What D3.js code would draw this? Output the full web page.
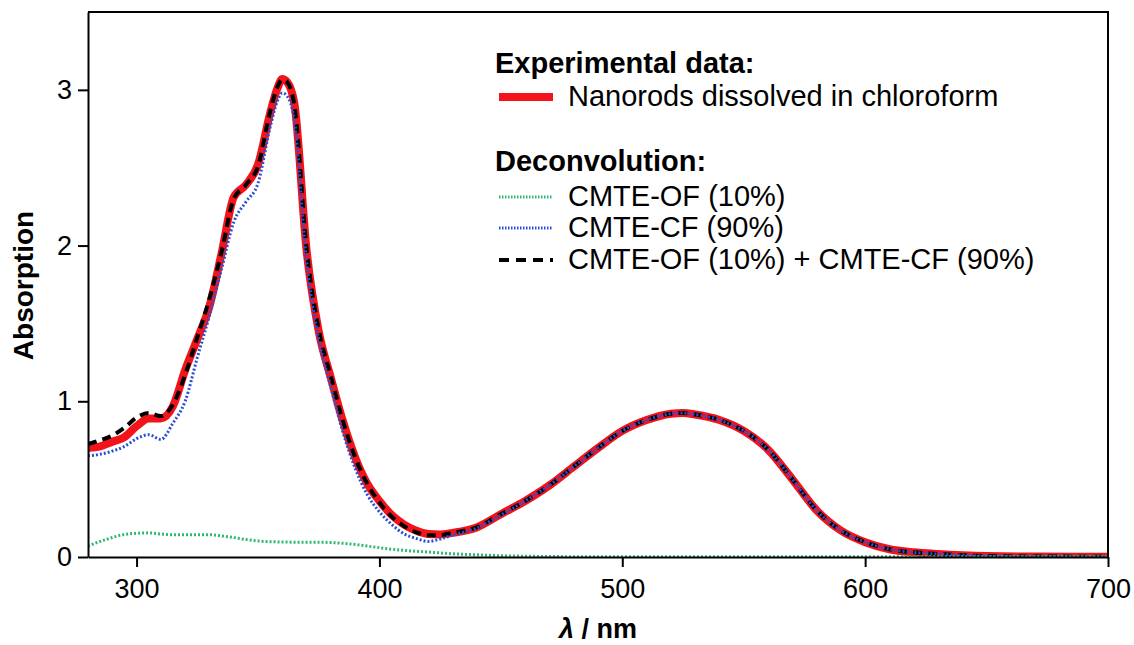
<!DOCTYPE html>
<html>
<head>
<meta charset="utf-8">
<script src="https://cdn.jsdelivr.net/npm/d3@7"></script>
<style>
    html, body { margin: 0; padding: 0; background: #fff; }
    svg { display: block; font-family: "Liberation Sans", Arial, sans-serif; }
    .axis text { font-size: 27px; fill: #000; }
    .axis path, .axis line { stroke: #000; stroke-width: 2; }
    .legend text { font-size: 29px; fill: #000; }
</style>
</head>
<body>
<svg id="chart" width="1134" height="645"></svg>
<script>
// --- Data ---
var wavelengths = [280, 285, 290, 295, 300, 305, 310, 315, 320, 325, 330, 335, 340, 345, 350, 355, 358, 360, 362, 365,
    370, 375, 380, 385, 390, 395, 400, 405, 410, 415, 420, 425, 430, 440, 450, 460, 470, 480, 490, 500,
    510, 520, 525, 530, 540, 550, 560, 570, 580, 590, 600, 610, 620, 630, 640, 650, 670, 700];

// experimental spectrum (red)
var nanorods = [0.70, 0.71, 0.74, 0.77, 0.84, 0.89, 0.89, 0.97, 1.20, 1.40, 1.61, 1.95, 2.31, 2.39, 2.52, 2.85, 3.01, 3.07, 3.05, 2.91,
    1.97, 1.45, 1.15, 0.87, 0.64, 0.47, 0.36, 0.27, 0.21, 0.17, 0.148, 0.145, 0.155, 0.19, 0.275, 0.36, 0.46, 0.58, 0.70, 0.81,
    0.88, 0.92, 0.925, 0.915, 0.88, 0.81, 0.69, 0.50, 0.30, 0.17, 0.095, 0.05, 0.03, 0.019, 0.011, 0.006, 0.003, 0.002];

// CMTE-OF (10%), green
var openForm = [0.07, 0.10, 0.125, 0.145, 0.152, 0.155, 0.148, 0.143, 0.143, 0.143, 0.143, 0.135, 0.125, 0.112, 0.103, 0.098, 0.097, 0.096, 0.096, 0.095,
    0.095, 0.095, 0.093, 0.088, 0.08, 0.07, 0.06, 0.05, 0.043, 0.037, 0.032, 0.026, 0.021, 0.014, 0.008, 0.005, 0.003, 0.002, 0.001, 0.001,
    0.001, 0.001, 0.001, 0.001, 0.001, 0.001, 0.001, 0.001, 0.001, 0.001, 0.001, 0.001, 0.001, 0.001, 0.001, 0.001, 0.001, 0.001];

// CMTE-CF (90%), blue
var closedForm = [0.65, 0.66, 0.68, 0.71, 0.76, 0.785, 0.755, 0.86, 1.00, 1.28, 1.55, 1.85, 2.15, 2.28, 2.40, 2.76, 2.93, 2.98, 2.96, 2.80,
    1.90, 1.40, 1.09, 0.80, 0.57, 0.40, 0.29, 0.21, 0.15, 0.12, 0.10, 0.115, 0.14, 0.185, 0.27, 0.36, 0.46, 0.58, 0.70, 0.81,
    0.88, 0.92, 0.925, 0.915, 0.88, 0.81, 0.69, 0.50, 0.30, 0.17, 0.095, 0.05, 0.03, 0.019, 0.011, 0.006, 0.003, 0.002];

// CMTE-OF (10%) + CMTE-CF (90%), black dashed
var combined = [0.725, 0.75, 0.78, 0.83, 0.895, 0.925, 0.905, 0.98, 1.17, 1.41, 1.66, 1.96, 2.30, 2.39, 2.51, 2.86, 3.02, 3.065, 3.05, 2.90,
    1.98, 1.46, 1.16, 0.87, 0.64, 0.47, 0.35, 0.26, 0.20, 0.16, 0.14, 0.14, 0.155, 0.19, 0.275, 0.36, 0.46, 0.58, 0.70, 0.81,
    0.88, 0.92, 0.925, 0.915, 0.88, 0.81, 0.69, 0.50, 0.30, 0.17, 0.095, 0.05, 0.03, 0.019, 0.011, 0.006, 0.003, 0.002];

var xTicks = [300, 400, 500, 600, 700];
var yTicks = [0, 1, 2, 3];

(function () {
    "use strict";

    var svg = d3.select("#chart");

    var left = 88, right = 1108, top = 12, bottom = 557;

    var x = d3.scaleLinear().domain([280, 700]).range([left, right]);
    var y = d3.scaleLinear().domain([0, 3.5]).range([bottom, top]);

    // --- Clip to plot area ---
    svg.append("defs").append("clipPath").attr("id", "plot-clip")
        .append("rect")
        .attr("x", left).attr("y", top)
        .attr("width", right - left).attr("height", bottom - top);

    function series(values) {
        return wavelengths.map(function (w, i) { return [w, values[i]]; });
    }

    var line = d3.line()
        .x(function (d) { return x(d[0]); })
        .y(function (d) { return y(d[1]); })
        .curve(d3.curveMonotoneX);

    var plot = svg.append("g").attr("clip-path", "url(#plot-clip)");

    // draw order: red, black dashed, blue dotted, green dotted
    var styles = [
        { data: nanorods, color: "#f2141a", width: 8, dash: null },
        { data: combined, color: "#000", width: 4, dash: "9,6" },
        { data: closedForm, color: "#2a4fd6", width: 3, dash: "2,2" },
        { data: openForm, color: "#2fb872", width: 3, dash: "2,2" }
    ];

    styles.forEach(function (s) {
        plot.append("path")
            .datum(series(s.data))
            .attr("fill", "none")
            .attr("stroke", s.color)
            .attr("stroke-width", s.width)
            .attr("stroke-linejoin", "round")
            .attr("stroke-dasharray", s.dash)
            .attr("d", line);
    });

    // --- Axes ---
    svg.append("g")
        .attr("class", "axis x-axis")
        .attr("transform", "translate(0," + bottom + ")")
        .call(d3.axisBottom(x).tickValues(xTicks).tickSize(10).tickPadding(12).tickSizeOuter(0));

    svg.append("g")
        .attr("class", "axis y-axis")
        .attr("transform", "translate(" + left + ",0)")
        .call(d3.axisLeft(y).tickValues(yTicks).tickFormat(d3.format("d"))
            .tickSize(10).tickPadding(6).tickSizeOuter(0));

    // top and right frame
    svg.append("path")
        .attr("fill", "none")
        .attr("stroke", "#000")
        .attr("stroke-width", 2)
        .attr("d", "M" + left + "," + top + "H" + right + "V" + bottom);

    // --- Axis titles ---
    svg.append("text")
        .attr("transform", "translate(33," + ((top + bottom) / 2 + 1) + ") rotate(-90)")
        .attr("text-anchor", "middle")
        .attr("font-size", 28)
        .attr("font-weight", "bold")
        .text("Absorption");

    var xt = svg.append("text")
        .attr("x", (left + right) / 2)
        .attr("y", 638)
        .attr("text-anchor", "middle")
        .attr("font-size", 27)
        .attr("font-weight", "bold");
    xt.append("tspan").attr("font-style", "italic").text("λ");
    xt.append("tspan").text(" / nm");

    // --- Legend ---
    var lg = svg.append("g").attr("class", "legend");
    var textX = 568, sx0 = 499, sx1 = 553;

    lg.append("text").attr("x", 495).attr("y", 73).attr("font-weight", "bold").text("Experimental data:");
    lg.append("text").attr("x", 495).attr("y", 171).attr("font-weight", "bold").text("Deconvolution:");

    var rows = [
        { label: "Nanorods dissolved in chloroform", base: 106, style: styles[0], dash: null, width: 8 },
        { label: "CMTE-OF (10%)", base: 206, style: styles[3], dash: "1.5,1.5", width: 3 },
        { label: "CMTE-CF (90%)", base: 237, style: styles[2], dash: "1.5,1.5", width: 3 },
        { label: "CMTE-OF (10%) + CMTE-CF (90%)", base: 269, style: styles[1], dash: "10,7", width: 4 }
    ];

    rows.forEach(function (r) {
        lg.append("line")
            .attr("x1", sx0).attr("x2", sx1)
            .attr("y1", r.base - 9).attr("y2", r.base - 9)
            .attr("stroke", r.style.color)
            .attr("stroke-width", r.width)
            .attr("stroke-dasharray", r.dash);
        lg.append("text").attr("x", textX).attr("y", r.base).text(r.label);
    });
})();
</script>
</body>
</html>
